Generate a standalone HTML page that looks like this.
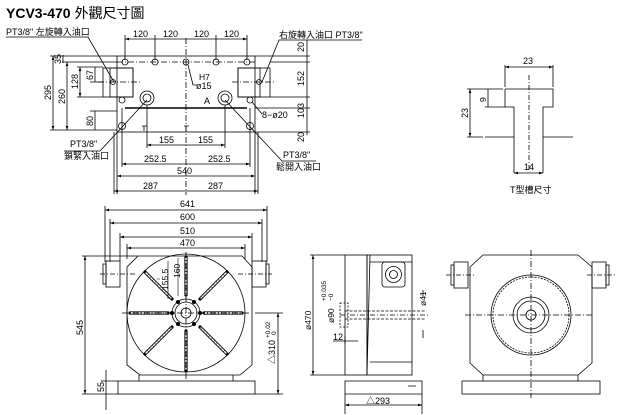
<!DOCTYPE html>
<html><head><meta charset="utf-8"><style>
body{margin:0;background:#fff}
svg{display:block}
text{font-family:"Liberation Sans Narrow","Liberation Sans","Noto Sans CJK TC",sans-serif;font-size:9px;fill:#000}
.t{font-size:8.5px}
</style></head><body>
<svg width="619" height="415" viewBox="0 0 619 415" xmlns="http://www.w3.org/2000/svg" stroke="#000" fill="none" stroke-width="0.8">
<defs>
<marker id="a" viewBox="0 0 6 6" refX="6" refY="3" markerWidth="5" markerHeight="5" orient="auto-start-reverse"><path d="M0,1L6,3L0,5z" fill="#000" stroke="none"/></marker>
</defs>
<text x="6" y="18" stroke="none" style="font-family:'Liberation Sans','Noto Sans CJK TC',sans-serif;font-size:14px;font-weight:bold">YCV3-470 <tspan font-weight="normal">外觀尺寸圖</tspan></text>

<!-- TOP VIEW -->
<rect x="117" y="56" width="138" height="76"/>
<rect x="103" y="68" width="30" height="29"/><rect x="110" y="68" width="23" height="29"/>
<rect x="238" y="68" width="32" height="29"/><rect x="238" y="68" width="22" height="29"/>
<line x1="117" y1="62" x2="255" y2="62" stroke-dasharray="6,2,1,2"/>
<line x1="186" y1="38" x2="186" y2="195" stroke-dasharray="6,2,1,2"/>
<line x1="98" y1="82" x2="140" y2="82" stroke-dasharray="6,2,1,2"/>
<line x1="232" y1="82" x2="276" y2="82" stroke-dasharray="6,2,1,2"/>
<line x1="125" y1="108" x2="247" y2="108" stroke-width="1.4"/>
<line x1="122" y1="108" x2="122" y2="132"/><line x1="250" y1="108" x2="250" y2="132"/>
<g fill="none">
<circle cx="125" cy="62" r="3"/><circle cx="155" cy="62" r="3"/><circle cx="186" cy="62" r="3"/><circle cx="216" cy="62" r="3"/><circle cx="247" cy="62" r="3"/>
<circle cx="122" cy="100" r="3"/><circle cx="250" cy="100" r="3"/><circle cx="122" cy="126" r="3.5"/><circle cx="250" cy="126" r="3.5"/>
<circle cx="147" cy="98" r="7"/><circle cx="147" cy="98" r="4"/><circle cx="225" cy="98" r="7"/><circle cx="225" cy="98" r="4"/>
<circle cx="113" cy="82" r="2.5"/><circle cx="259" cy="82" r="2.5"/>
</g>
<path d="M142,126h5M144,126v5M184,126h5M186,126v5"/>
<text x="199" y="80" class="t" stroke="none">H7</text><text x="196" y="89" stroke="none">ø15</text>
<text x="204" y="104" stroke="none">A</text>
<path d="M188,65L193,85h4"/>
<!-- top dims -->
<line x1="125" y1="39" x2="247" y2="39" marker-start="url(#a)" marker-end="url(#a)"/>
<path d="M125,35v25M155,35v25M216,35v25M247,35v25"/>
<text x="133" y="37" stroke="none">120</text><text x="163" y="37" stroke="none">120</text><text x="194" y="37" stroke="none">120</text><text x="224" y="37" stroke="none">120</text>
<!-- right dims -->
<path d="M255,56h55M270,62h40M270,97h40M255,108h55M255,132h55"/>
<line x1="307" y1="40" x2="307" y2="135"/>
<text transform="translate(304,52) rotate(-90)" stroke="none">20</text>
<text transform="translate(304,86) rotate(-90)" stroke="none">152</text>
<text transform="translate(304,118) rotate(-90)" stroke="none">103</text>
<text transform="translate(304,142) rotate(-90)" stroke="none">20</text>
<text x="262" y="118" stroke="none">8−ø20</text><path d="M252,102L262,114"/>
<!-- left dims -->
<path d="M50,56h67M50,130h67M62,62h55M77,67h26M77,97h26M90,82h13M90,111h27"/>
<line x1="53" y1="56" x2="53" y2="130" marker-start="url(#a)" marker-end="url(#a)"/>
<line x1="67" y1="62" x2="67" y2="130" marker-start="url(#a)" marker-end="url(#a)"/>
<line x1="80" y1="67" x2="80" y2="97" marker-start="url(#a)" marker-end="url(#a)"/>
<line x1="95" y1="67" x2="95" y2="82"/><line x1="95" y1="111" x2="95" y2="130"/><line x1="63" y1="55" x2="63" y2="63"/>
<text transform="translate(51,100) rotate(-90)" stroke="none">295</text>
<text transform="translate(65,104) rotate(-90)" stroke="none">260</text>
<text transform="translate(78,89) rotate(-90)" stroke="none">128</text>
<text transform="translate(93,80) rotate(-90)" stroke="none">67</text>
<text transform="translate(61,64) rotate(-90)" stroke="none">35</text>
<text transform="translate(93,126) rotate(-90)" stroke="none">80</text>
<!-- bottom dims -->
<path d="M147,105v43M225,105v43M122,132v35M250,132v35M117,132v62M255,132v62M114,132v62M258,132v62"/>
<line x1="147" y1="145" x2="225" y2="145" marker-start="url(#a)" marker-end="url(#a)"/>
<line x1="122" y1="164" x2="250" y2="164" marker-start="url(#a)" marker-end="url(#a)"/>
<line x1="117" y1="176" x2="255" y2="176" marker-start="url(#a)" marker-end="url(#a)"/>
<line x1="114" y1="191" x2="258" y2="191" marker-start="url(#a)" marker-end="url(#a)"/>
<text x="159" y="143" stroke="none">155</text><text x="198" y="143" stroke="none">155</text>
<text x="144" y="162" stroke="none">252.5</text><text x="208" y="162" stroke="none">252.5</text>
<text x="177" y="174" stroke="none">540</text>
<text x="143" y="189" stroke="none">287</text><text x="208" y="189" stroke="none">287</text>
<!-- labels -->
<text x="6" y="35" stroke="none">PT3/8" 左旋轉入油口</text><path d="M6,37h82L114,82"/>
<text x="279" y="38" stroke="none">右旋轉入油口  PT3/8"</text><path d="M362,40h-83L262,82"/>
<text x="70" y="147" stroke="none">PT3/8"</text><text x="64" y="159" stroke="none">鎖緊入油口</text><path d="M64,151h36L147,100"/>
<text x="283" y="158" stroke="none">PT3/8"</text><text x="276" y="170" stroke="none">鬆開入油口</text><path d="M316,161h-34L225,100"/>

<!-- T slot -->
<path d="M505,89h48v18h-10v66M505,89v18h9v66M485,137h29M543,137h30"/>
<line x1="529" y1="75" x2="529" y2="170" stroke-dasharray="5,2,1,2"/>
<path d="M505,65v22M553,65v22"/>
<line x1="505" y1="67" x2="553" y2="67" marker-start="url(#a)" marker-end="url(#a)"/>
<text x="523" y="64" stroke="none">23</text>
<path d="M467,89h36M485,107h20M467,137h16"/>
<line x1="470" y1="89" x2="470" y2="137" marker-start="url(#a)" marker-end="url(#a)"/>
<line x1="488" y1="89" x2="488" y2="107"/>
<text transform="translate(468,118) rotate(-90)" stroke="none">23</text>
<text transform="translate(486,102) rotate(-90)" stroke="none" class="t">9</text>
<line x1="514" y1="173" x2="543" y2="173" marker-start="url(#a)" marker-end="url(#a)"/>
<text x="524" y="170" stroke="none">14</text>
<text x="510" y="193" stroke="none">T型槽尺寸</text>

<!-- FRONT VIEW -->
<path d="M138,256h104l10,11v98l-12,10h-100l-13,-10v-98z"/>
<path d="M139,375v6M233,375v6"/>
<rect x="118" y="381" width="137" height="13"/>
<circle cx="186" cy="313" r="59"/>
<circle cx="186" cy="313" r="14"/><circle cx="186" cy="313" r="11"/><circle cx="186" cy="313" r="5"/>
<g fill="#000"><circle cx="178" cy="302" r="1.6"/><circle cx="194" cy="302" r="1.6"/><circle cx="178" cy="324" r="1.6"/><circle cx="194" cy="324" r="1.6"/><circle cx="172" cy="313" r="1.6"/><circle cx="200" cy="313" r="1.6"/></g>
<g stroke-width="3.2" stroke="#000" stroke-linecap="round"><path d="M186,257v38M186,331v40M130,313h38M204,313h38M145,272l27,27M227,272l-27,27M145,354l27,-27M227,354l-27,-27"/></g>
<g stroke-width="1.4" stroke="#fff" stroke-linecap="round" stroke-dasharray="2,1.5"><path d="M186,258v36M186,332v38M131,313h36M205,313h36M146,273l25,25M226,273l-25,25M146,353l25,-25M226,353l-25,-25"/></g>
<rect x="106" y="261" width="14" height="26"/><rect x="103" y="264" width="3" height="20"/>
<rect x="252" y="261" width="14" height="26"/><rect x="266" y="264" width="3" height="20"/>
<line x1="100" y1="274" x2="135" y2="274" stroke-dasharray="5,2,1,2"/><line x1="238" y1="274" x2="272" y2="274" stroke-dasharray="5,2,1,2"/>
<line x1="122" y1="313" x2="250" y2="313" stroke-dasharray="6,2,1,2"/>
<line x1="186" y1="252" x2="186" y2="380" stroke-dasharray="6,2,1,2"/>
<path d="M105,206v56M267,206v56M110,219v43M262,219v43M120,233v28M252,233v28M127,244v15M245,244v15"/>
<line x1="105" y1="210" x2="267" y2="210" marker-start="url(#a)" marker-end="url(#a)"/>
<line x1="110" y1="223" x2="262" y2="223" marker-start="url(#a)" marker-end="url(#a)"/>
<line x1="120" y1="237" x2="252" y2="237" marker-start="url(#a)" marker-end="url(#a)"/>
<line x1="127" y1="248" x2="245" y2="248" marker-start="url(#a)" marker-end="url(#a)"/>
<text x="180" y="207" stroke="none">641</text><text x="180" y="220" stroke="none">600</text><text x="180" y="234" stroke="none">510</text><text x="180" y="246" stroke="none">470</text>
<path d="M82,256h56M82,394h36M255,394h28M255,313h28"/>
<line x1="85" y1="256" x2="85" y2="394" marker-start="url(#a)" marker-end="url(#a)"/>
<text transform="translate(83,335) rotate(-90)" stroke="none">545</text>
<path d="M101,381h17M106,370v40"/>
<text transform="translate(104,392) rotate(-90)" stroke="none">55</text>
<line x1="278" y1="313" x2="278" y2="394" marker-start="url(#a)" marker-end="url(#a)"/>
<text transform="translate(275,364) rotate(-90)" stroke="none">△310</text>
<text transform="translate(270,338) rotate(-90)" stroke="none" style="font-size:6.5px">+0.02</text>
<text transform="translate(276,335) rotate(-90)" stroke="none" style="font-size:6.5px">0</text>
<path d="M160,279l-3,0M168,261v38M178,258v38" stroke-width="0.6"/>
<text transform="translate(168,290) rotate(-90)" stroke="none" class="t">155.5</text>
<text transform="translate(180,278) rotate(-90)" stroke="none" class="t">160</text>

<!-- SIDE VIEW -->
<rect x="345" y="255" width="22" height="120"/>
<rect x="367" y="255" width="45" height="120"/>
<path d="M370,255L367,375M370,262h42M370,362h42"/>
<path d="M345,381h77v13h-77z"/>
<rect x="382" y="262" width="23" height="25" rx="3"/><circle cx="393.5" cy="274.5" r="8"/><circle cx="393.5" cy="274.5" r="4"/>
<rect x="340" y="303" width="8" height="24" stroke-dasharray="2,1.5"/>
<path d="M345,311h80M345,319h80" stroke-dasharray="3,1.5"/>
<line x1="340" y1="315" x2="428" y2="315" stroke-dasharray="5,2,1,2"/>
<path d="M423,290v8M423,330v8"/>
<text transform="translate(426,306) rotate(-90)" stroke="none" class="t">ø41</text>
<path d="M310,255h35M310,375h35"/>
<line x1="313" y1="255" x2="313" y2="375" marker-start="url(#a)" marker-end="url(#a)"/>
<text transform="translate(311,330) rotate(-90)" stroke="none" class="t">ø470</text>
<text transform="translate(334,323) rotate(-90)" stroke="none" class="t">ø90</text>
<text transform="translate(326,301) rotate(-90)" stroke="none" style="font-size:6.5px">+0.035</text>
<text transform="translate(333,301) rotate(-90)" stroke="none" style="font-size:6.5px">−0</text>
<path d="M333,341h25M345,336v8"/><text x="333" y="340" stroke="none">12</text>
<path d="M345,394v20M422,394v20M408,386h8"/>
<line x1="345" y1="405" x2="422" y2="405" marker-start="url(#a)" marker-end="url(#a)"/>
<text x="366" y="404" stroke="none">△293</text>

<!-- REAR VIEW -->
<path d="M483,255h95l14,12v96l-14,12h-95l-13,-12v-96z"/>
<path d="M483,375v6M578,375v6"/>
<rect x="462" y="381" width="138" height="13"/>
<rect x="454" y="262" width="14" height="26"/><rect x="451" y="265" width="3" height="20"/>
<rect x="592" y="262" width="14" height="26"/><rect x="606" y="265" width="3" height="20"/>
<line x1="446" y1="275" x2="475" y2="275" stroke-dasharray="5,2,1,2"/><line x1="587" y1="275" x2="615" y2="275" stroke-dasharray="5,2,1,2"/>
<circle cx="531" cy="315" r="40"/><circle cx="531" cy="315" r="38" stroke-dasharray="2,1.2"/>
<circle cx="531" cy="315" r="18"/><circle cx="531" cy="315" r="14"/><circle cx="531" cy="315" r="5"/>
<line x1="465" y1="315" x2="594" y2="315" stroke-dasharray="6,2,1,2"/>
<line x1="531" y1="250" x2="531" y2="398" stroke-dasharray="6,2,1,2"/>
</svg>
</body></html>
